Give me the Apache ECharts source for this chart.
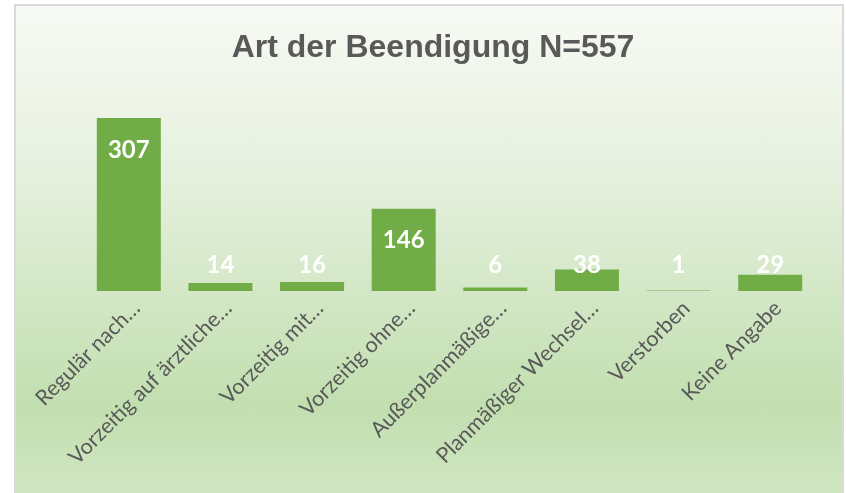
<!DOCTYPE html>
<html>
<head>
<meta charset="utf-8">
<title>Art der Beendigung</title>
<script src="https://cdn.jsdelivr.net/npm/echarts@6/dist/echarts.min.js"></script>
<style>
  html, body { margin: 0; padding: 0; background: #fff; }
  .frame {
    position: absolute; left: 14px; top: 4px; width: 830px; height: 489px;
    box-sizing: border-box;
    border: 2px solid #d9d9d9; border-bottom: none;
    background: linear-gradient(to bottom, #f7faf4 0%, #e6f0de 35%, #d2e7c5 60%, #c2dfb0 82%, #d0e6c2 100%);
  }
  #chart { position: absolute; left: 0; top: 0; width: 846px; height: 493px; }
</style>
</head>
<body>
<div class="frame"></div>
<div id="chart"></div>
<script>
const categories = [
  'Regulär nach…',
  'Vorzeitig auf ärztliche…',
  'Vorzeitig mit…',
  'Vorzeitig ohne…',
  'Außerplanmäßige…',
  'Planmäßiger Wechsel…',
  'Verstorben',
  'Keine Angabe'
];
const counts = [307, 14, 16, 146, 6, 38, 1, 29];

const chart = echarts.init(document.getElementById('chart'));

// kleine Balken: Beschriftung über dem Balken, große: innen oben
const seriesData = counts.map(function (v) {
  return {
    value: v,
    label: v > 100
      ? { position: 'insideTop', distance: 20 }
      : { position: 'insideBottom', distance: 14 }
  };
});

chart.setOption({
  backgroundColor: 'transparent',
  title: {
    text: 'Art der Beendigung N=557',
    left: 428,
    top: 27,
    textAlign: 'center',
    textStyle: {
      fontFamily: 'Liberation Sans',
      fontWeight: 'bold',
      fontSize: 32,
      color: '#595959'
    }
  },
  grid: { left: 83, right: 30, top: 60, bottom: 202 },
  xAxis: {
    type: 'category',
    data: categories,
    axisLine: { show: false },
    axisTick: { show: false },
    axisLabel: {
      rotate: 45,
      margin: 6,
      interval: 0,
      verticalAlign: 'top',
      fontFamily: 'Lato',
      fontSize: 21.5,
      color: '#595959'
    }
  },
  yAxis: {
    type: 'value',
    min: 0,
    max: 410,
    show: false,
    splitLine: { show: false }
  },
  series: [{
    type: 'bar',
    data: seriesData,
    barWidth: 64,
    itemStyle: { color: '#70ad47' },
    label: {
      show: true,
      color: '#ffffff',
      fontFamily: 'Lato',
      fontWeight: 'bold',
      fontSize: 24
    }
  }]
});
</script>
</body>
</html>
